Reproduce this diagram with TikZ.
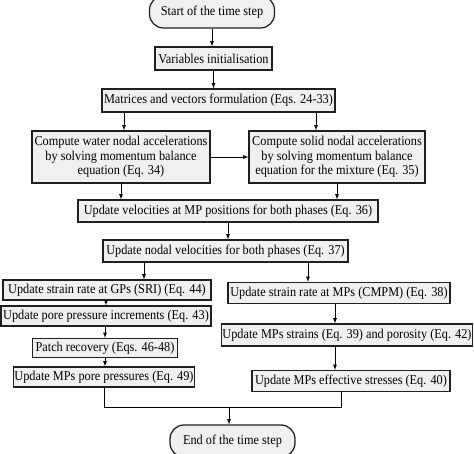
\documentclass[tikz,border=0pt]{standalone}
\usepackage{fontspec}
\setmainfont{Liberation Serif}[FakeStretch=0.91]
\usetikzlibrary{arrows,shapes.geometric,positioning}

\begin{document}
\begin{tikzpicture}[x=1pt,y=-1pt,
  box/.style={draw=black!88,line width=1.25pt,fill=black!6,inner sep=0pt,
    minimum height=21pt,font=\fontsize{13.5}{14.5}\selectfont,align=center},
  term/.style={box,rounded corners=14pt,minimum height=32pt},
  arr/.style={-latex,line width=0.8pt}]

\useasboundingbox (0,0) rectangle (474,454);

\node[term,minimum width=125pt] (start) at (212,12) {Start of the time step};
\node[box,minimum width=117pt,minimum height=23pt] (var) at (213.5,58.5) {Variables initialisation};
\node[box,minimum width=233pt,minimum height=23pt] (mat) at (218.5,100.5) {Matrices and vectors formulation (Eqs. 24-33)};
\node[box,minimum width=178pt,minimum height=52pt] (lcomp) at (121,157) {Compute water nodal accelerations\\by solving momentum balance\\equation (Eq. 34)};
\node[box,minimum width=176pt,minimum height=52pt] (rcomp) at (337,157) {Compute solid nodal accelerations\\by solving momentum balance\\equation for the mixture (Eq. 35)};
\node[box,minimum width=300pt,minimum height=22pt] (vel) at (228,211) {Update velocities at MP positions for both phases (Eq. 36)};
\node[box,minimum width=245pt,minimum height=22pt] (nod) at (225.5,251) {Update nodal velocities for both phases (Eq. 37)};

% left branch
\node[box,minimum width=208pt,minimum height=20pt] (sgp) at (107,290) {Update strain rate at GPs (SRI) (Eq. 44)};
\node[box,minimum width=210pt,minimum height=20pt] (ppi) at (106,316) {Update pore pressure increments (Eq. 43)};
\node[box,minimum width=145pt,minimum height=19pt] (patch) at (105,348) {Patch recovery (Eqs. 46-48)};
\node[box,minimum width=181pt,minimum height=20pt] (mppp) at (104,377) {Update MPs pore pressures (Eq. 49)};

% right branch
\node[box,minimum width=222pt,minimum height=21pt] (smp) at (339,293) {Update strain rate at MPs (CMPM) (Eq. 38)};
\node[box,minimum width=251pt,minimum height=22pt] (strn) at (347,335) {Update MPs strains (Eq. 39) and porosity (Eq. 42)};
\node[box,minimum width=198pt,minimum height=21pt] (eff) at (351,381) {Update MPs effective stresses (Eq. 40)};

\node[term,minimum width=125pt] (end) at (232.5,441) {End of the time step};

\coordinate (a1) at ([xshift=3pt]lcomp.north);
\coordinate (a2) at ([xshift=-21pt]rcomp.north);
\coordinate (a3) at ([xshift=37pt]sgp.north);
\coordinate (a4) at ([xshift=-31pt]smp.north);
\coordinate (a5) at ([xshift=-4pt]smp.south);
\coordinate (a6) at ([xshift=-12pt]strn.south);
\coordinate (effout) at ([xshift=-10pt]eff.south);
\coordinate (merge) at ([xshift=-3.5pt,yshift=17pt]end.north);

\draw[arr] (start.south) -- (start.south |- var.north);
\draw[arr] (var.south) -- (var.south |- mat.north);
\draw[arr] (a1 |- mat.south) -- (a1);
\draw[arr] (a2 |- mat.south) -- (a2);
\draw[arr] (lcomp.east) -- (rcomp.west);
\draw[arr] (lcomp.south) -- (lcomp.south |- vel.north);
\draw[arr] (rcomp.south) -- (rcomp.south |- vel.north);
\draw[arr] (vel.south) -- (vel.south |- nod.north);
\draw[arr] (a3 |- nod.south) -- (a3);
\draw[arr] (a4 |- nod.south) -- (a4);
\draw[arr] (ppi.north |- sgp.south) -- (ppi.north);
\draw[arr] (patch.north |- ppi.south) -- (patch.north);
\draw[arr] (patch.south) -- (patch.south |- mppp.north);
\draw[arr] (a5) -- (a5 |- strn.north);
\draw[arr] (a6) -- (a6 |- eff.north);
\draw[line width=0.8pt] (mppp.south) |- (merge) -| (effout);
\draw[arr] (merge) -- (merge |- end.north);

\end{tikzpicture}
\end{document}
